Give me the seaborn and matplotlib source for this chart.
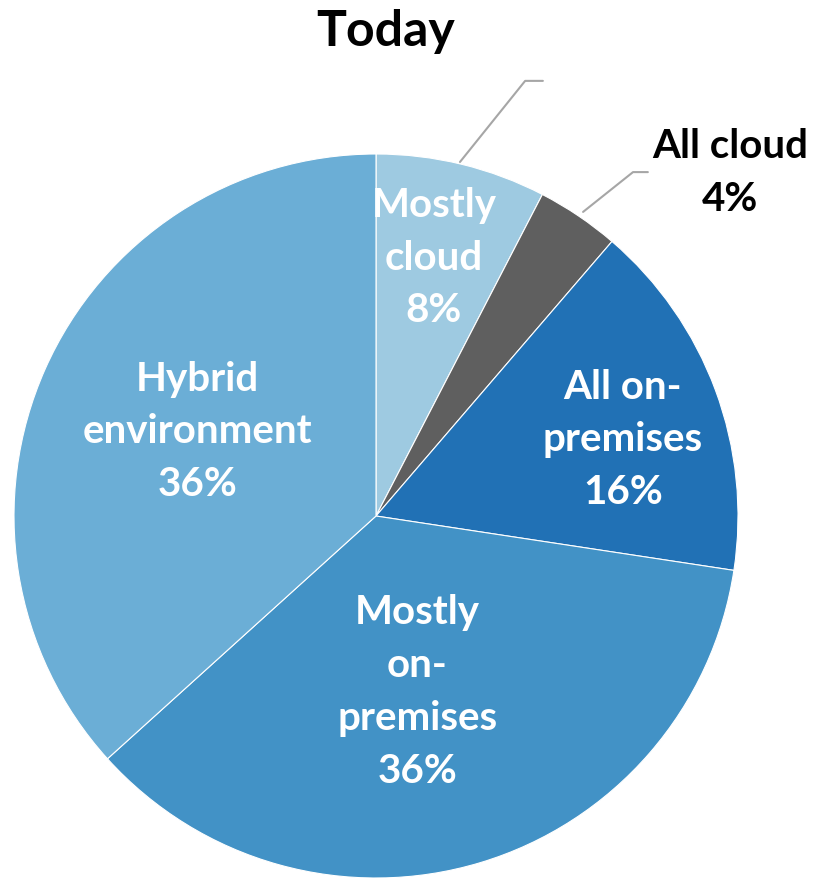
import matplotlib
matplotlib.use("Agg")
import matplotlib.pyplot as plt
import seaborn as sns
import numpy as np

categories = ["Mostly cloud", "All cloud", "All on-premises", "Mostly on-premises", "Hybrid environment"]
label_texts = ["Mostly\ncloud\n8%", "All cloud\n4%", "All on-\npremises\n16%", "Mostly\non-\npremises\n36%", "Hybrid\nenvironment\n36%"]
values = [7.6, 3.7, 16.1, 35.9, 36.7]
colors = ["#9ECAE1", "#5F5F5F", "#2171B5", "#4292C6", "#6BAED6"]
title = "Today"

sns.set_theme(style="white")
plt.rcParams['font.family'] = ['Lato', 'DejaVu Sans']

W, H = 816, 879
cx, cy, R = 376, 517, 362
fig = plt.figure(figsize=(W / 100, H / 100), dpi=100)
ax = fig.add_axes([0, 0, 1, 1])

wedges, _ = ax.pie(values, colors=colors, startangle=90, counterclock=False,
                   wedgeprops=dict(edgecolor="white", linewidth=0.8))

ax.set_xlim(-cx / R, (W - cx) / R)
ax.set_ylim(-(H - cy) / R, cy / R)
ax.set_aspect("auto")
ax.axis("off")

# inside labels: radial fraction and angle offset from wedge midpoint
inside = {0: (0.733, 1.1), 2: (0.714, -3.0), 3: (0.496, -3.5), 4: (0.547, -1.5)}
for i, (frac, dang) in inside.items():
    w = wedges[i]
    ang = np.deg2rad((w.theta1 + w.theta2) / 2 + dang)
    ax.text(frac * np.cos(ang), frac * np.sin(ang), label_texts[i], ha="center", va="center",
            color="white", fontsize=29, fontweight="bold", linespacing=1.53)

# All cloud label outside with leader
ax.text(0.978, 0.950, label_texts[1], ha="center", va="center", color="black",
        fontsize=29, fontweight="bold", linespacing=1.53)
ax.plot([0.572, 0.710, 0.751], [0.840, 0.950, 0.950], color="#A6A6A6", lw=1.5)
# empty leader line from Mostly cloud
ax.plot([0.232, 0.412, 0.461], [0.978, 1.202, 1.202], color="#A6A6A6", lw=1.5)

fig.text(386 / W, 1 - 32 / H, title, ha="center", va="center", fontsize=36, fontweight="bold", color="black")

fig.savefig("out.png", dpi=100, facecolor="white")
